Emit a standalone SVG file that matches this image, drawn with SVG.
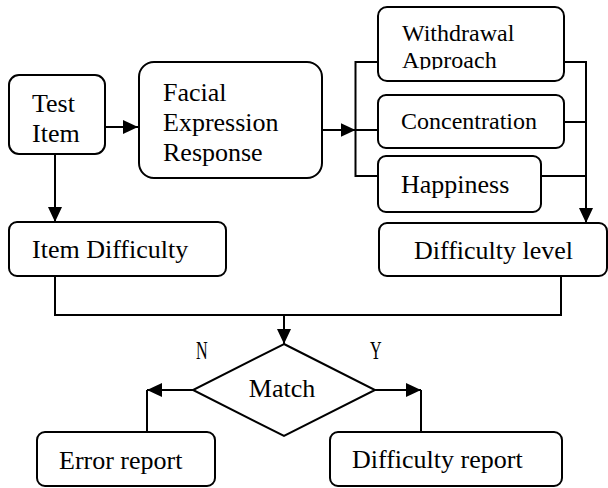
<svg xmlns="http://www.w3.org/2000/svg" width="608" height="488" viewBox="0 0 608 488">
<style>
.box{fill:#fff;stroke:#000;stroke-width:2}
.ln{fill:none;stroke:#000;stroke-width:2}
.t{font-family:"Liberation Serif","Times New Roman",serif;font-size:26px;fill:#000}
.s{font-size:24px}
</style>
<defs>
<marker id="ah" markerUnits="userSpaceOnUse" markerWidth="15" markerHeight="14" refX="15" refY="7" orient="auto" viewBox="0 0 15 14">
<path d="M0,0 L15,7 L0,14 z" fill="#000"/>
</marker>
<clipPath id="wclip"><rect x="378" y="7" width="186" height="62.5"/></clipPath>
</defs>
<rect width="608" height="488" fill="#fff"/>
<g id="connectors">
<path class="ln" d="M105,127 H138" marker-end="url(#ah)"/>
<path class="ln" d="M55,154 V222" marker-end="url(#ah)"/>
<path class="ln" d="M322,130 H355.5" marker-end="url(#ah)"/>
<path class="ln" d="M378,62 H355.5 V176 H378 M355.5,130 H378"/>
<path class="ln" d="M564,62 H586 V223" marker-end="url(#ah)"/>
<path class="ln" d="M564,122 H586 M541,176 H586"/>
<path class="ln" d="M55,276 V315 H561 V276"/>
<path class="ln" d="M284,315 V344" marker-end="url(#ah)"/>
<path class="ln" d="M193,390 H147" marker-end="url(#ah)"/>
<path class="ln" d="M147,390 V432"/>
<path class="ln" d="M375,390 H421" marker-end="url(#ah)"/>
<path class="ln" d="M421,390 V432"/>
</g>
<g id="test-item">
<rect class="box" x="9" y="75" width="96" height="79" rx="10"/>
<text class="t" x="32" y="112">Test</text>
<text class="t" x="32" y="142">Item</text>
</g>
<g id="facial">
<rect class="box" x="139" y="62" width="183" height="116" rx="15"/>
<text class="t" x="163" y="101">Facial</text>
<text class="t" x="163" y="131">Expression</text>
<text class="t" x="163" y="161">Response</text>
</g>
<g id="withdrawal">
<rect class="box" x="378" y="7" width="186" height="74" rx="9"/>
<g clip-path="url(#wclip)">
<text class="t s" x="402" y="41">Withdrawal</text>
<text class="t s" x="402" y="68">Approach</text>
</g>
</g>
<g id="concentration">
<rect class="box" x="378" y="95" width="186" height="53" rx="8"/>
<text class="t s" x="401" y="129">Concentration</text>
</g>
<g id="happiness">
<rect class="box" x="378" y="156" width="163" height="56" rx="8"/>
<text class="t" x="401" y="193">Happiness</text>
</g>
<g id="item-difficulty">
<rect class="box" x="9" y="222" width="217" height="54" rx="8"/>
<text class="t" x="32" y="258">Item Difficulty</text>
</g>
<g id="difficulty-level">
<rect class="box" x="379" y="223" width="228" height="53" rx="8"/>
<text class="t" x="414" y="259">Difficulty level</text>
</g>
<g id="match">
<polygon class="box" points="284,344 375,390 284,436 193,390"/>
<text class="t" x="282" y="397" text-anchor="middle">Match</text>
</g>
<g id="labels">
<text class="t" transform="translate(196,359) scale(0.62,1)">N</text>
<text class="t" transform="translate(370,359) scale(0.62,1)">Y</text>
</g>
<g id="error-report">
<rect class="box" x="37" y="432" width="178" height="54" rx="8"/>
<text class="t" x="59" y="469">Error report</text>
</g>
<g id="difficulty-report">
<rect class="box" x="330" y="432" width="232" height="54" rx="8"/>
<text class="t" x="352" y="468">Difficulty report</text>
</g>
</svg>
